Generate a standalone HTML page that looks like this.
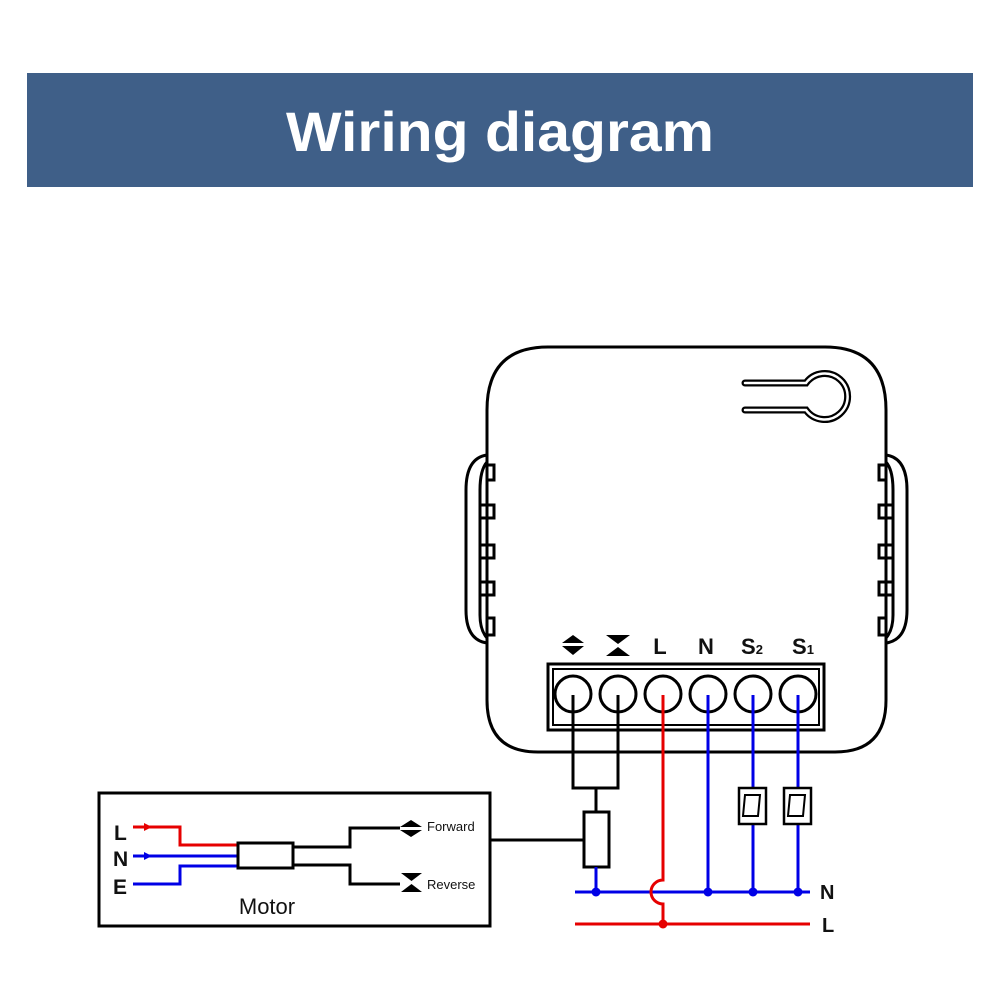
<!DOCTYPE html>
<html><head><meta charset="utf-8"><style>
html,body{margin:0;padding:0;background:#fff;}
svg{display:block;}
</style></head><body>
<svg width="1000" height="1003" viewBox="0 0 1000 1003" xmlns="http://www.w3.org/2000/svg">
<rect x="0" y="0" width="1000" height="1003" fill="#fff"/>
<rect x="27" y="73" width="946" height="114" fill="#3f5f88"/>
<text x="500" y="151" text-anchor="middle" font-family="Liberation Sans, sans-serif" font-weight="bold" font-size="56" fill="#fff" textLength="428" lengthAdjust="spacingAndGlyphs">Wiring diagram</text>

<g fill="none" stroke="#000" stroke-width="3">
<path d="M487,700 L487,410 Q487,347 548,347 L825,347 Q886,347 886,410 L886,700 Q886,752 835,752 L538,752 Q487,752 487,700 Z" fill="#fff"/>
<path d="M487,455 Q466,458 466,490 L466,610 Q466,640 487,643"/>
<path d="M487,462 Q480,470 480,490 L480,615 Q480,630 487,638"/>
<path d="M487,465 L494,465 L494,480 L487,480 M480,505 L494,505 L494,518 L480,518 M480,545 L494,545 L494,558 L480,558 M480,582 L494,582 L494,595 L480,595 M487,618 L494,618 L494,635 L487,635"/>
<path d="M886,455 Q907,458 907,490 L907,610 Q907,640 886,643"/>
<path d="M886,462 Q893,470 893,490 L893,615 Q893,630 886,638"/>
<path d="M886,465 L879,465 L879,480 L886,480 M893,505 L879,505 L879,518 L893,518 M893,545 L879,545 L879,558 L893,558 M893,582 L879,582 L879,595 L893,595 M886,618 L879,618 L879,635 L886,635"/>
</g>
<path d="M745,383 L806,383 A23,23 0 1 1 806,410 L745,410" fill="none" stroke="#000" stroke-width="7" stroke-linecap="round"/>
<path d="M745,383 L806,383 A23,23 0 1 1 806,410 L745,410" fill="none" stroke="#fff" stroke-width="2.5" stroke-linecap="round"/>

<g fill="#000">
<path d="M562,643 L573,635 L584,643 Z M562,646 L573,655 L584,646 Z"/>
<path d="M606,635 L630,635 L618,644 Z M606,656 L630,656 L618,647 Z"/>
</g>
<g font-family="Liberation Sans, sans-serif" font-weight="bold" font-size="22" fill="#111" text-anchor="middle">
<text x="660" y="654">L</text>
<text x="706" y="654">N</text>
<text x="752" y="654">S<tspan font-size="13">2</tspan></text>
<text x="803" y="654">S<tspan font-size="13">1</tspan></text>
</g>
<rect x="548" y="664" width="276" height="66" fill="#fff" stroke="#000" stroke-width="3"/>
<rect x="553" y="669" width="266" height="56" fill="none" stroke="#000" stroke-width="2"/>
<g fill="none" stroke="#000" stroke-width="3">
<circle cx="573" cy="694" r="18"/><circle cx="618" cy="694" r="18"/><circle cx="663" cy="694" r="18"/>
<circle cx="708" cy="694" r="18"/><circle cx="753" cy="694" r="18"/><circle cx="798" cy="694" r="18"/>
</g>
<g fill="none" stroke="#000" stroke-width="3">
<path d="M573,695 L573,788 L618,788 L618,695"/>
<path d="M596,788 L596,812"/>
<rect x="584" y="812" width="25" height="55" fill="#fff"/>
<path d="M584,840 L490,840"/>
</g>
<g fill="none" stroke="#0000e6" stroke-width="3">
<path d="M596,867 L596,892"/>
<path d="M575,892 L810,892"/>
<path d="M708,695 L708,892"/>
<path d="M753,695 L753,788 M753,824 L753,892"/>
<path d="M798,695 L798,788 M798,824 L798,892"/>
</g>
<g fill="#0000e6"><circle cx="596" cy="892" r="4.5"/><circle cx="708" cy="892" r="4.5"/><circle cx="753" cy="892" r="4.5"/><circle cx="798" cy="892" r="4.5"/></g>
<g fill="none" stroke="#e60000" stroke-width="3">
<path d="M663,695 L663,880 A12,12 0 0 0 663,904 L663,924"/>
<path d="M575,924 L810,924"/>
</g>
<circle cx="663" cy="924" r="4.5" fill="#e60000"/>
<g stroke="#000" fill="#fff">
<rect x="739" y="788" width="27" height="36" stroke-width="2.5"/>
<path d="M745,795 L760,795 L758,816 L743,816 Z" stroke-width="2"/>
<rect x="784" y="788" width="27" height="36" stroke-width="2.5"/>
<path d="M790,795 L805,795 L803,816 L788,816 Z" stroke-width="2"/>
</g>
<g font-family="Liberation Sans, sans-serif" font-weight="bold" font-size="20" fill="#111">
<text x="820" y="899">N</text>
<text x="822" y="932">L</text>
</g>

<rect x="99" y="793" width="391" height="133" fill="none" stroke="#000" stroke-width="3"/>
<g font-family="Liberation Sans, sans-serif" font-weight="bold" font-size="21" fill="#111">
<text x="114" y="840">L</text>
<text x="113" y="866">N</text>
<text x="113" y="894">E</text>
</g>
<path d="M133,827 L180,827 L180,845 L238,845" fill="none" stroke="#e60000" stroke-width="3"/>
<path d="M144,823 L152,827 L144,831 Z" fill="#e60000"/>
<path d="M133,856 L238,856" fill="none" stroke="#0000e6" stroke-width="3"/>
<path d="M144,852 L152,856 L144,860 Z" fill="#0000e6"/>
<path d="M133,884 L180,884 L180,866 L238,866" fill="none" stroke="#0000e6" stroke-width="3"/>
<rect x="238" y="843" width="55" height="25" fill="#fff" stroke="#000" stroke-width="3"/>
<path d="M293,847 L350,847 L350,828 L400,828 M293,865 L350,865 L350,884 L400,884" fill="none" stroke="#000" stroke-width="3"/>
<path d="M400,827 L411,820 L422,827 Z M400,830 L411,837 L422,830 Z" fill="#000"/>
<path d="M401,873 L422,873 L411.5,881 Z M401,892 L422,892 L411.5,884 Z" fill="#000"/>
<g font-family="Liberation Sans, sans-serif" font-size="13" fill="#111">
<text x="427" y="831">Forward</text>
<text x="427" y="889">Reverse</text>
</g>
<text x="267" y="914" text-anchor="middle" font-family="Liberation Sans, sans-serif" font-size="22" fill="#111">Motor</text>
</svg>
</body></html>
